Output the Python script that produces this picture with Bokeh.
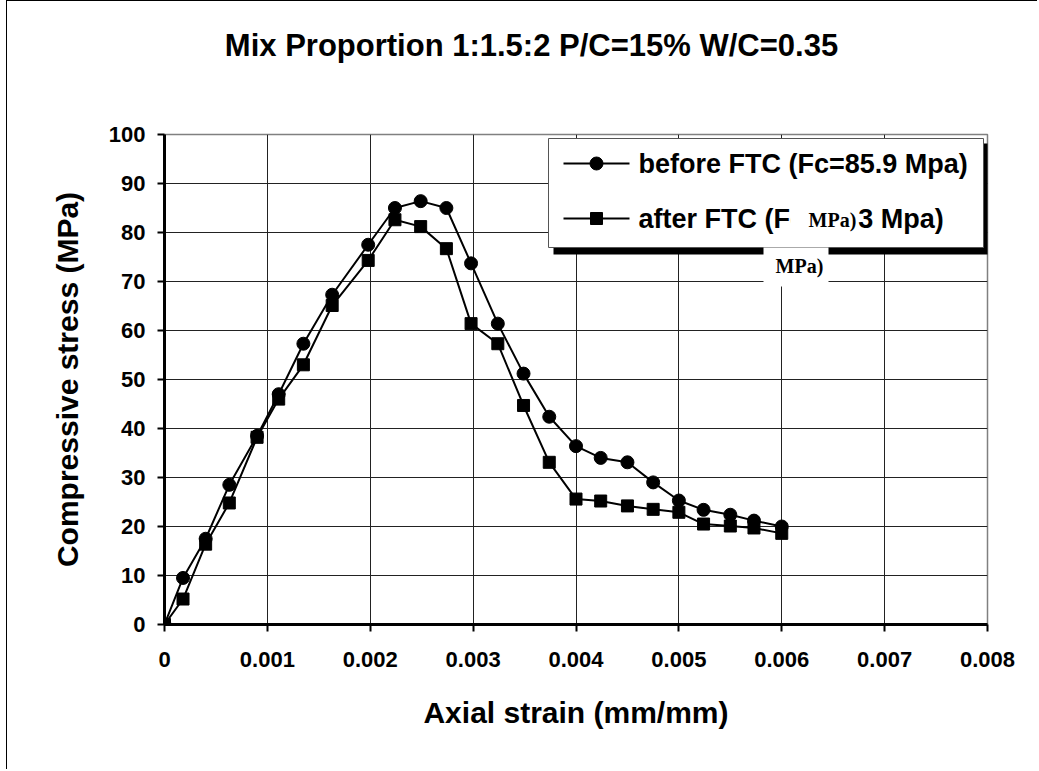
from bokeh.plotting import figure
from bokeh.models import Range1d, FixedTicker
from bokeh.layouts import column
from bokeh.core.properties import value
from bokeh.embed import file_html
from bokeh.resources import INLINE

# ---------------- data ----------------
strain = [0, 0.00018, 0.0004, 0.00063, 0.0009, 0.00111, 0.00135, 0.00163, 0.00198,
          0.00224, 0.00249, 0.00274, 0.00298, 0.00324, 0.00349, 0.00374, 0.004,
          0.00424, 0.0045, 0.00475, 0.005, 0.00524, 0.0055, 0.00573, 0.006]
stress_before = [0, 9.5, 17.5, 28.5, 38.5, 47.0, 57.3, 67.3, 77.5, 85.0, 86.4, 85.0,
                 73.7, 61.4, 51.2, 42.4, 36.4, 34.0, 33.1, 29.0, 25.3, 23.4, 22.4, 21.2, 20.0]
stress_after = [0, 5.2, 16.4, 24.8, 38.2, 46.0, 53.0, 65.1, 74.3, 82.6, 81.2, 76.7,
                61.4, 57.3, 44.7, 33.1, 25.6, 25.2, 24.2, 23.5, 22.9, 20.5, 20.1, 19.7, 18.6]
x_ticks = [0, 0.001, 0.002, 0.003, 0.004, 0.005, 0.006, 0.007, 0.008]
x_tick_labels = ["0", "0.001", "0.002", "0.003", "0.004", "0.005", "0.006", "0.007", "0.008"]
y_ticks = [0, 10, 20, 30, 40, 50, 60, 70, 80, 90, 100]
title_text = "Mix Proportion 1:1.5:2 P/C=15% W/C=0.35"
legend_labels = ["before FTC (Fc=85.9 Mpa)", "after FTC (Fc=82.3 Mpa)"]
legend_markers = ["circle", "square"]
artifact_text = "MPa)"

FONT = "Liberation Sans"
W = 1030
HEAD_H = 100

# frame geometry (page px) used only for placing decorations (title, legend box etc.)
FL, FR, FT, FB = 164, 987, 134, 624
def xd(px):
    return (px - FL) / (FR - FL) * 0.008
def yd(py):
    return (FB - py) / (FB - FT) * 100

# ---------- title strip (its frame is aligned with the main frame) ----------
head = figure(width=W, height=HEAD_H, output_backend="svg", toolbar_location=None,
              x_range=Range1d(FL, FR), y_range=Range1d(0, HEAD_H),
              x_axis_location=None, y_axis_location=None, min_border=0)
head.grid.visible = False
head.outline_line_color = None
head.background_fill_color = "white"
head.border_fill_color = "white"
head.text(x=[531], y=[HEAD_H - 44], text=[title_text], text_align="center",
          text_baseline="middle", text_font=value(FONT), text_font_style="bold",
          text_font_size="31px", text_color="black")

p = figure(width=W, height=768 - HEAD_H, output_backend="svg", toolbar_location=None,
           x_range=Range1d(0, 0.008), y_range=Range1d(0, 100),
           min_border_left=157, min_border_right=50, min_border_top=133 - HEAD_H,
           min_border_bottom=145)
p.background_fill_color = "white"
p.border_fill_color = "white"
p.outline_line_color = "#808080"
p.outline_line_width = 1.5

for ax in (p.xaxis[0], p.yaxis[0]):
    ax.axis_line_width = 3
    ax.axis_line_color = "black"
    ax.major_tick_out = 7
    ax.major_tick_in = 0
    ax.major_tick_line_width = 2
    ax.minor_tick_out = 0
    ax.minor_tick_in = 0
    ax.major_label_text_font = FONT
    ax.major_label_text_font_style = "bold"
    ax.major_label_text_font_size = "22px"
    ax.major_label_text_color = "black"
    ax.axis_label_text_font = FONT
    ax.axis_label_text_font_style = "bold"
    ax.axis_label_text_font_size = "30px"
    ax.axis_label_text_color = "black"

p.xaxis.ticker = FixedTicker(ticks=x_ticks)
p.xaxis.major_label_overrides = {t: l for t, l in zip(x_ticks, x_tick_labels)}
p.xaxis.major_label_standoff = 20
p.xaxis.axis_label = "Axial strain (mm/mm)"
p.xaxis.axis_label_standoff = 26
p.yaxis.ticker = FixedTicker(ticks=y_ticks)
p.yaxis.major_label_standoff = 12
p.yaxis.axis_label = "Compressive stress (MPa)"
p.yaxis.axis_label_standoff = 22

p.xgrid.ticker = FixedTicker(ticks=x_ticks)
p.ygrid.ticker = FixedTicker(ticks=y_ticks)
for g in (p.xgrid[0], p.ygrid[0]):
    g.grid_line_color = "#222222"
    g.grid_line_width = 1

p.line(strain, stress_before, line_color="black", line_width=2)
p.scatter(strain, stress_before, marker="circle", size=13, color="black")
p.line(strain, stress_after, line_color="black", line_width=2)
p.scatter(strain, stress_after, marker="square", size=12, color="black")

# ---------- legend box (drawn by hand so the stray patch can sit on top) ----------
p.quad(left=[xd(553)], right=[xd(990)], top=[yd(143)], bottom=[yd(254)],
       fill_color="black", line_color=None)
p.quad(left=[xd(548)], right=[xd(983)], top=[yd(138)], bottom=[yd(247)],
       fill_color="white", line_color="#555555", line_width=1)
row_y = [yd(163), yd(218)]
p.segment(x0=[xd(563)] * 2, x1=[xd(629)] * 2, y0=row_y, y1=row_y,
          line_color="black", line_width=2)
for ry, mk, sz in zip(row_y, legend_markers, (13, 12)):
    p.scatter([xd(596)], [ry], marker=mk, size=sz, color="black")
p.text(x=[xd(638)] * 2, y=row_y, text=legend_labels, text_baseline="middle",
       text_align="left", text_font=value(FONT), text_font_style="bold",
       text_font_size="27px", text_color="black")

# stray white patches with serif "MPa)" text seen in the source image
p.quad(left=[xd(790), xd(763)], right=[xd(857), xd(828)],
       top=[yd(205), yd(247)], bottom=[yd(234), yd(286)],
       fill_color="white", line_color=None)
p.text(x=[xd(832), xd(799)], y=[yd(219), yd(265)], text=[artifact_text] * 2,
       text_align="center", text_baseline="middle", text_font=value("Liberation Serif"),
       text_font_style="bold", text_font_size="20px", text_color="black")

layout = column(head, p, spacing=0)
layout.styles = {"border-left": "1px solid black", "border-top": "1px solid black",
                 "margin-left": "6px"}

open("out.html", "w").write(file_html(layout, INLINE))
